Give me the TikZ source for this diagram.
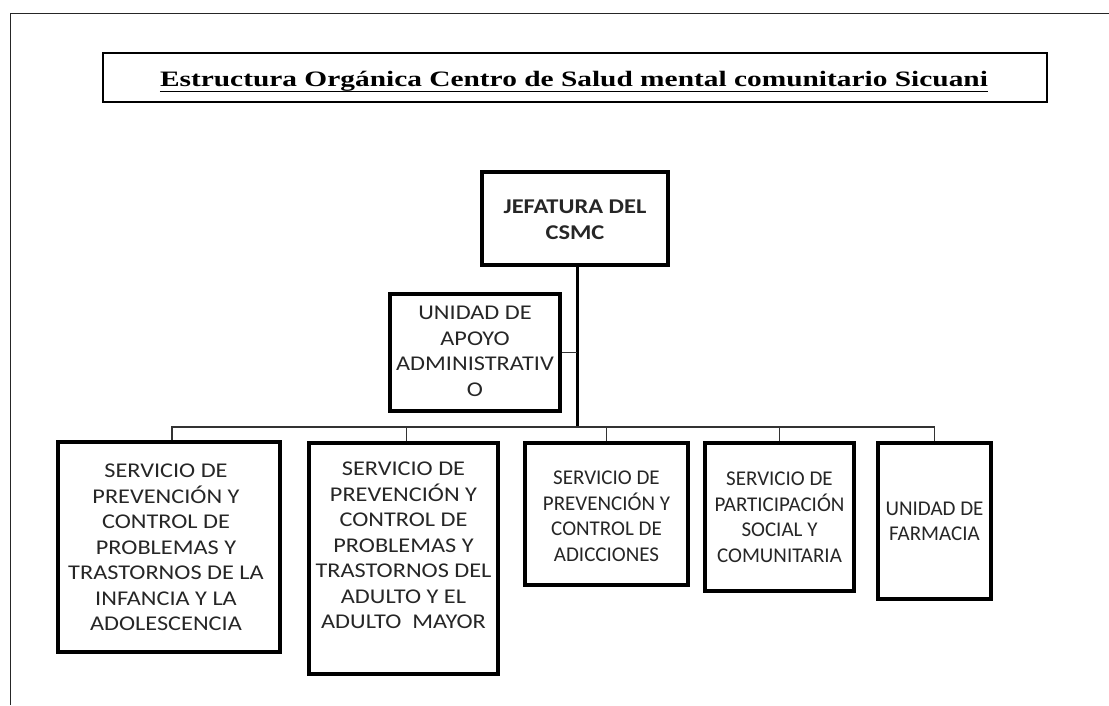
\documentclass[tikz,border=0pt]{standalone}
\usepackage{fontspec}
\usepackage{graphicx}
\setmainfont{Carlito}
\newfontfamily\titlefont{Liberation Serif}
\newcommand\boxlines[2]{\scalebox{#1}[1]{\fontsize{21}{25.5}\selectfont\begin{tabular}{@{}c@{}}#2\end{tabular}}}
\tikzset{
  frame/.style={line width=1.5pt, black!85},
  orgbox/.style={draw=black, line width=3.5pt, inner sep=0pt},
  txt/.style={text=black!85, inner sep=0pt},
  bus/.style={line width=1.5pt, black!80},
  trunk/.style={line width=3pt, black},
  stub/.style={line width=1pt, black!80}
}
\begin{document}
\begin{tikzpicture}[x=1pt,y=-1pt]
\useasboundingbox (0,0) rectangle (1109,705);
% outer frame (top and left sides)
\draw[frame] (10.5,705) -- (10.5,13.5) -- (1109,13.5);
% title
\node[draw=black, line width=2pt, minimum width=944, minimum height=49, inner sep=0pt] (title) at (575,77.5) {};
\node[txt, text=black, anchor=base] (titletext) at (574,86) {\resizebox{828pt}{\height}{\titlefont\bfseries\fontsize{22}{26}\selectfont Estructura Org\'anica Centro de Salud mental comunitario Sicuani}};
\draw[line width=1.8pt] ([yshift=-5.5pt]titletext.base west) -- ([yshift=-5.5pt]titletext.base east);
% jefatura
\node[orgbox, line width=4pt, minimum width=186, minimum height=93] (jef) at (575,218.5) {};
\node[txt] at (575,221) {\scalebox{1.165}[1]{\fontsize{21}{26}\selectfont\bfseries\begin{tabular}{@{}c@{}}JEFATURA DEL\\CSMC\end{tabular}}};
% unidad de apoyo
\node[orgbox, minimum width=170, minimum height=117] (apoyo) at (475,352.5) {};
\node[txt] at (475,353) {\boxlines{1.157}{UNIDAD DE\\APOYO\\ADMINISTRATIV\\O}};
% lower boxes
\node[orgbox, minimum width=222, minimum height=210] (b1) at (169,547) {};
\node[orgbox, minimum width=189, minimum height=231] (b2) at (403.5,558.5) {};
\node[orgbox, minimum width=163, minimum height=142] (b3) at (606.5,514) {};
\node[orgbox, minimum width=149, minimum height=148] (b4) at (779.5,517) {};
\node[orgbox, minimum width=113, minimum height=156] (b5) at (934.5,521) {};
\node[txt] at (166,549) {\boxlines{1.157}{SERVICIO DE\\PREVENCI\'ON Y\\CONTROL DE\\PROBLEMAS Y\\TRASTORNOS DE LA\\INFANCIA Y LA\\ADOLESCENCIA}};
\node[txt] at (403.5,547) {\boxlines{1.157}{SERVICIO DE\\PREVENCI\'ON Y\\CONTROL DE\\PROBLEMAS Y\\TRASTORNOS DEL\\ADULTO Y EL\\ADULTO\ \ MAYOR}};
\node[txt] at (606.5,518) {\boxlines{1.0}{SERVICIO DE\\PREVENCI\'ON Y\\CONTROL DE\\ADICCIONES}};
\node[txt] at (779.5,519) {\boxlines{1.0}{SERVICIO DE\\PARTICIPACI\'ON\\SOCIAL Y\\COMUNITARIA}};
\node[txt] at (934.5,523) {\boxlines{1.0}{UNIDAD DE\\FARMACIA}};
% connectors
\coordinate (hub) at (577,427);
\draw[trunk] (jef.south -| hub) -- (hub);
\draw[stub] (apoyo.east) -- (apoyo.east -| hub);
\draw[bus] ([xshift=3pt]b1.north) |- (hub);
\draw[bus] ([xshift=3pt]b2.north) |- (hub);
\draw[bus] (b3.north) |- (hub);
\draw[bus] (b4.north) |- (hub);
\draw[bus] (b5.north) |- (hub);
\end{tikzpicture}
\end{document}
